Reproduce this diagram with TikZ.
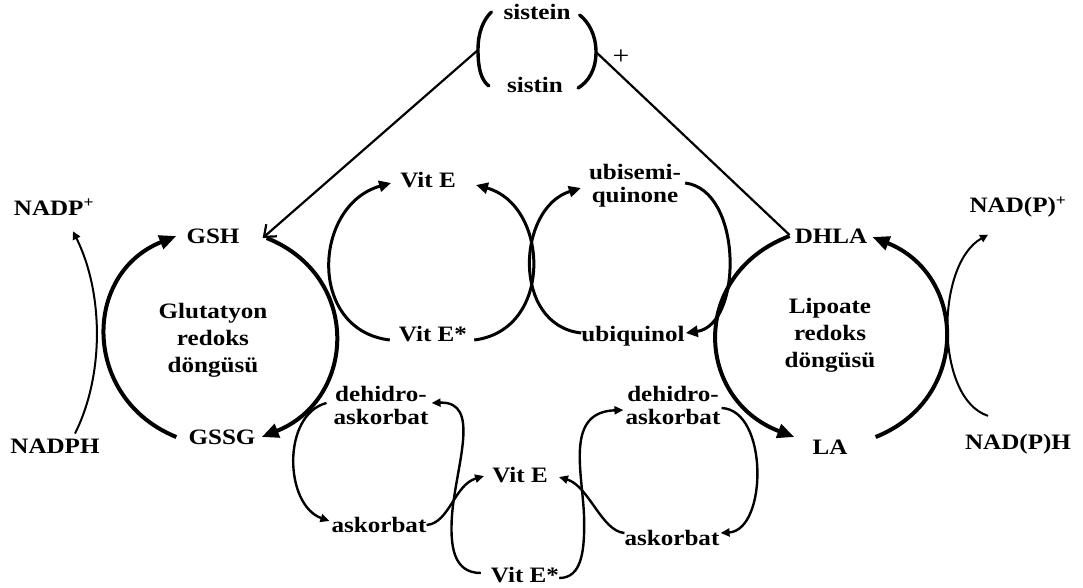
\documentclass[tikz,border=0pt]{standalone}
\usepackage{fontspec}
\setmainfont{Liberation Serif}[FakeStretch=1.14]
\usetikzlibrary{arrows.meta}

\begin{document}
\begin{tikzpicture}[x=1pt,y=-1pt,
  lbl/.style={font=\fontsize{22}{27}\selectfont\bfseries, inner sep=0pt, align=center},
  lbltwo/.style={lbl, font=\fontsize{22}{23}\selectfont\bfseries},
  bigcyc/.style={line width=4pt, -{Triangle[length=17pt,width=14pt]}},
  midcyc/.style={line width=3pt, -{Triangle[length=12pt,width=11pt]}},
  smallcyc/.style={line width=2.4pt, -{Triangle[length=9pt,width=8pt]}},
  thincyc/.style={line width=2pt, -{Triangle[length=8pt,width=8pt]}},
  bracket/.style={line width=3.4pt, line cap=round},
  link/.style={line width=2.2pt},
]
\fill[white] (0,0) rectangle (1083,587);
\useasboundingbox (0,0) rectangle (1083,587);

% cysteine / cystine pair
\node[lbl] (sistein) at (537,12) {sistein};
\node[lbl] (sistin) at (535,85) {sistin};
\node[font=\fontsize{26}{26}\selectfont, inner sep=0pt] (plus) at (621,57) {+};

% glutathione cycle
\node[lbl] (GSH) at (213,236) {GSH};
\node[lbl] (GSSG) at (222,437) {GSSG};
\node[lbl] (NADPp) at (54,207) {NADP\textsuperscript{+}};
\node[lbl] (NADPH) at (55,446) {NADPH};
\node[lbl] (glut) at (213,340) {Glutatyon\\redoks\\döngüsü};

% lipoate cycle
\node[lbl] (DHLA) at (831,236) {DHLA};
\node[lbl] (LA) at (830,447) {LA};
\node[lbl] (NADPpr) at (1018,207) {NAD(P)\textsuperscript{+}};
\node[lbl] (NADPHr) at (1018,444) {NAD(P)H};
\node[lbl] (lip) at (830,335) {Lipoate\\redoks\\döngüsü};

% vitamin E / ubiquinone
\node[lbl] (VitEt) at (428,180) {Vit E};
\node[lbl] (VitEst) at (433,334) {Vit E*};
\node[lbltwo] (ubisemi) at (635,186) {ubisemi-\\quinone};
\node[lbl] (ubiquinol) at (633,336) {ubiquinol};

% ascorbate / vitamin E
\node[lbltwo] (dehL) at (381,405) {dehidro-\\askorbat};
\node[lbl] (askL) at (379,525) {askorbat};
\node[lbl] (VitEb) at (520,475) {Vit E};
\node[lbl] (VitEsb) at (525,575) {Vit E*};
\node[lbltwo] (dehR) at (673,405) {dehidro-\\askorbat};
\node[lbl] (askR) at (672,538) {askorbat};

\coordinate (brL) at (478,50);
\coordinate (brR) at (596,52);
\coordinate (sL) at (452,515);
\coordinate (sR) at (584,515);

% brackets round sistein / sistin
\draw[bracket] ([xshift=-12pt]sistein.west) .. controls +(-8,8) and +(0,-18) .. (brL)
  .. controls +(0,18) and +(-8,-6) .. ([xshift=-18pt,yshift=-1pt]sistin.west);
\draw[bracket] ([xshift=9pt,yshift=-3pt]sistein.east) .. controls +(9,7) and +(0,-17) .. (brR)
  .. controls +(0,18) and +(10,-6) .. ([xshift=15pt,yshift=-3pt]sistin.east);

% links to GSH and DHLA
\draw[link, -{Straight Barb[length=10pt,width=16pt]}] (brL) -- ([xshift=23pt,yshift=-2pt]GSH.east);
\draw[link] (brR) -- ([xshift=-5pt,yshift=1pt]DHLA.west);

% glutathione cycle arrows
\draw[bigcyc] ([xshift=-12pt]GSSG.west) .. controls +(-94,-38) and +(-95,38) .. ([xshift=-10pt]GSH.west);
\draw[bigcyc] ([xshift=27pt,yshift=-2pt]GSH.east) .. controls +(95,38) and +(95,-38) .. ([xshift=6pt]GSSG.east);
\draw[thincyc] ([xshift=20pt,yshift=5pt]NADPH.north) .. controls +(30,-60) and +(30,60) .. ([xshift=19pt,yshift=-16pt]NADPp.south);

% lipoate cycle arrows
\draw[bigcyc] ([xshift=-5pt]DHLA.west) .. controls +(-100,38) and +(-100,-38) .. ([xshift=-18pt,yshift=10pt]LA.west);
\draw[bigcyc] ([xshift=28pt,yshift=10pt]LA.east) .. controls +(95,-38) and +(95,38) .. ([xshift=5pt,yshift=-1pt]DHLA.east);
\draw[thincyc] ([xshift=-30pt,yshift=18pt]NADPHr.north) .. controls +(-53,-17) and +(-53,30) .. ([xshift=-30pt,yshift=-17pt]NADPpr.south);

% vitamin E and ubiquinone arrows
\draw[midcyc] ([xshift=-9pt,yshift=-6pt]VitEst.west) .. controls +(-83,-10) and +(-78,22) .. ([xshift=-9pt,yshift=-3pt]VitEt.west);
\draw[midcyc] ([xshift=7pt,yshift=-6pt]VitEst.east) .. controls +(80,-10) and +(73,20) .. ([xshift=20pt,yshift=-5pt]VitEt.east);
\draw[midcyc] ([yshift=3pt]ubiquinol.west) .. controls +(-70,-8) and +(-64,20) .. ([xshift=-8pt,yshift=-2pt]ubisemi.west);
\draw[midcyc] ([xshift=4pt,yshift=3pt]ubisemi.east) .. controls +(58,7) and +(57,-8) .. ([xshift=1pt,yshift=3pt]ubiquinol.east);

% ascorbate and vitamin E arrows
\draw[smallcyc] ([xshift=-7pt,yshift=2pt]dehL.west) .. controls +(-45,12) and +(-45,-16) .. ([xshift=-2pt,yshift=4pt]askL.west);
\draw[smallcyc] (askL.east) .. controls +(23,-2) and +(-30,9) .. ([xshift=-8pt,yshift=-1pt]VitEb.west);
\draw[smallcyc] ([xshift=-10pt,yshift=2pt]VitEsb.west) .. controls +(-28,0) and +(-2,30) .. (sL)
  .. controls +(4,-50) and +(50,-2) .. ([xshift=3pt,yshift=2pt]dehL.east);
\draw[smallcyc] ([yshift=-3pt]VitEsb.east) .. controls +(23,0) and +(1,35) .. (sR)
  .. controls +(-2,-45) and +(-58,2) .. ([xshift=-2pt,yshift=-5pt]dehR.west);
\draw[smallcyc] ([yshift=5pt]askR.west) .. controls +(-23,-2) and +(30,9) .. ([xshift=11pt,yshift=-2pt]VitEb.east);
\draw[smallcyc] ([xshift=1pt,yshift=-3pt]dehR.east) .. controls +(47,2) and +(47,-3) .. ([xshift=1pt,yshift=5pt]askR.east);
\end{tikzpicture}
\end{document}
